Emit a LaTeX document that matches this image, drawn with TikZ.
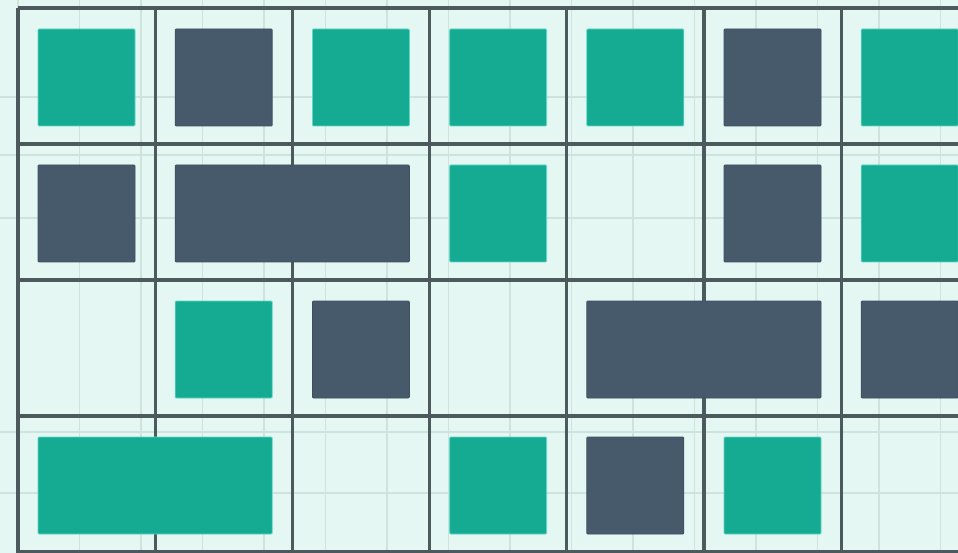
\documentclass[tikz,border=0pt]{standalone}
\usetikzlibrary{positioning}
\definecolor{bgmint}{HTML}{E4F7F3}
\definecolor{minorgrid}{HTML}{CEE2DE}
\definecolor{majorgrid}{HTML}{4C5A5E}
\definecolor{tealtile}{HTML}{14AB92}
\definecolor{tealedge}{HTML}{5FD6C6}
\definecolor{slatetile}{HTML}{475A6C}
\definecolor{slateedge}{HTML}{3E4F5E}

\begin{document}
\begin{tikzpicture}[x=1pt, y=-1pt,
    minor/.style={draw=minorgrid, line width=1.3pt},
    major/.style={draw=majorgrid, line width=3.2pt},
    tile/.style={rectangle, inner sep=0pt, outer sep=0pt, anchor=north west,
        minimum height=97pt, rounded corners=1pt, line width=0.8pt},
    tealbox/.style={tile, fill=tealtile, draw=tealedge},
    slatebox/.style={tile, fill=slatetile, draw=slateedge}]
\useasboundingbox (0,0) rectangle (958,553);
\fill[bgmint] (0,0) rectangle (958,553);
\foreach \i in {0,...,15} \draw[minor] (18+61.5*\i,0) -- (18+61.5*\i,553);
\foreach \y in {97,155,218,432,493} \draw[minor] (0,\y) -- (958,\y);
\foreach \c in {0,...,6} \draw[major] (18+137.2*\c,8) -- (18+137.2*\c,556);
\foreach \r in {0,...,4} \draw[major] (18,8+136*\r) -- (962,8+136*\r);
\foreach \c/\r/\w/\k [count=\n] in {
    0/0/1/tealbox, 1/0/1/slatebox, 2/0/1/tealbox, 3/0/1/tealbox, 4/0/1/tealbox, 5/0/1/slatebox, 6/0/1/tealbox,
    0/1/1/slatebox, 1/1/2/slatebox, 3/1/1/tealbox, 5/1/1/slatebox, 6/1/1/tealbox,
    1/2/1/tealbox, 2/2/1/slatebox, 4/2/2/slatebox, 6/2/1/slatebox,
    0/3/2/tealbox, 3/3/1/tealbox, 4/3/1/slatebox, 5/3/1/tealbox}
  \node[\k, minimum width={97+137.2*(\w-1)}] (tile\n) at (38+137.2*\c,29+136*\r) {};
\end{tikzpicture}
\end{document}
